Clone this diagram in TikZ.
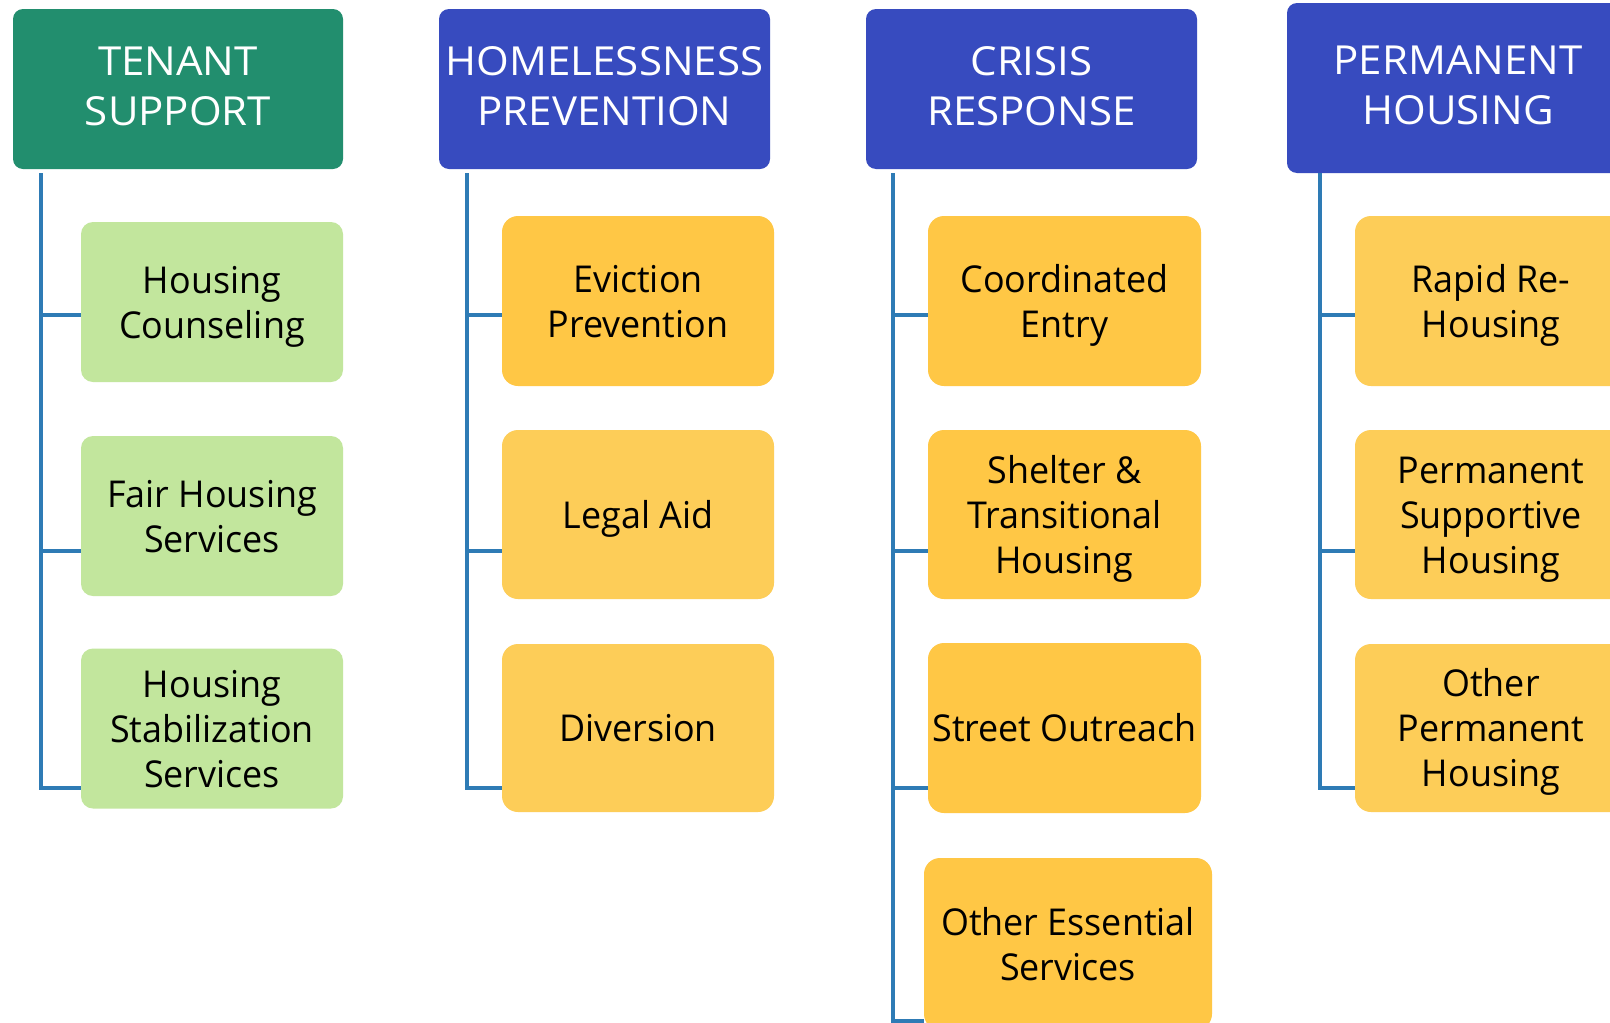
\documentclass[tikz,border=0pt]{standalone}
\usepackage{fontspec}
\setmainfont{Open Sans}
\newfontfamily\headfont[FakeStretch=1.05]{Open Sans}
\newfontfamily\childfont[FakeStretch=0.97]{Open Sans}
\definecolor{greenhead}{HTML}{228E6E}
\definecolor{bluehead}{HTML}{374BBF}
\definecolor{greenchild}{HTML}{C2E69D}
\definecolor{yellowA}{HTML}{FFC745}
\definecolor{yellowB}{HTML}{FDCD58}
\definecolor{linecol}{HTML}{2E7BB5}
\newcommand{\myhdown}{\rule[-6pt]{0pt}{6pt}}
\newcommand{\mycup}{\rule{0pt}{37pt}}
\newcommand{\mydn}{\rule[-10pt]{0pt}{10pt}}
\begin{document}
\begin{tikzpicture}[x=1pt,y=-1pt,
  headbox/.style={rounded corners=10pt, minimum width=330pt, minimum height=160pt, inner sep=0pt,
    text=white, align=center, font=\headfont\fontsize{40}{50}\selectfont},
  childbox/.style={rounded corners=16pt, minimum width=272pt, minimum height=170pt, inner sep=0pt,
    text=black, align=center, font=\childfont\fontsize{37}{45}\selectfont},
  greenbox/.style={childbox, fill=greenchild, rounded corners=12pt, minimum width=262pt, minimum height=160pt},
  conn/.style={draw=linecol, line width=4pt}
]
\useasboundingbox (0,0) rectangle (1610,1023);
\clip (0,0) rectangle (1610,1023);
\fill[white] (0,0) rectangle (1610,1023);

% headers
\node[headbox, fill=greenhead] (h1) at (178,89) {TENANT\\SUPPORT\myhdown};
\node[headbox, fill=bluehead, minimum width=331pt] (h2) at (604.5,89) {HOMELESSNESS\\PREVENTION\myhdown};
\node[headbox, fill=bluehead, minimum width=331pt] (h3) at (1031.5,89) {CRISIS\\RESPONSE\myhdown};
\node[headbox, fill=bluehead, minimum width=342pt, minimum height=170pt] (h4) at (1458,88) {PERMANENT\\HOUSING\myhdown};

% children: tenant support
\node[greenbox] (c11) at (212,302) {\mycup Housing\\Counseling\mydn};
\node[greenbox] (c12) at (212,516) {\mycup Fair Housing\\Services\mydn};
\node[greenbox] (c13) at (212,728.5) {\mycup Housing\\Stabilization\\Services\mydn};

% homelessness prevention
\node[childbox, fill=yellowA] (c21) at (638,301) {\mycup Eviction\\Prevention\mydn};
\node[childbox, fill=yellowB, minimum height=169pt] (c22) at (638,514.5) {\mycup Legal Aid\mydn};
\node[childbox, fill=yellowB, minimum height=168pt] (c23) at (638,728) {\mycup Diversion\mydn};

% crisis response
\node[childbox, fill=yellowA, minimum width=273pt] (c31) at (1064.5,301) {\mycup Coordinated\\Entry\mydn};
\node[childbox, fill=yellowA, minimum width=273pt, minimum height=169pt] (c32) at (1064.5,514.5) {\mycup Shelter \&\\Transitional\\Housing\mydn};
\node[childbox, fill=yellowA, minimum width=273pt] (c33) at (1064.5,728) {\mycup Street Outreach\mydn};
\node[childbox, fill=yellowA, minimum width=288pt, minimum height=172pt] (c34) at (1068,944) {\mycup Other Essential\\Services\mydn};

% permanent housing
\node[childbox, fill=yellowB] (c41) at (1491,301) {\mycup Rapid Re-\\Housing\mydn};
\node[childbox, fill=yellowB, minimum height=169pt] (c42) at (1491,514.5) {\mycup Permanent\\Supportive\\Housing\mydn};
\node[childbox, fill=yellowB, minimum height=168pt] (c43) at (1491,728) {\mycup Other\\Permanent\\Housing\mydn};

% trunk tops and branch levels
\coordinate (ya) at (0,315);
\coordinate (yb) at (0,551);
\coordinate (yc) at (0,788);
\coordinate (yd) at (0,1021);
\coordinate (t1) at (41,173);
\coordinate (t2) at (467,173);
\coordinate (t3) at (893,173);
\coordinate (t4) at (1320,173);

\draw[conn] (t1) -- (t1 |- yc) -- (c13.west |- yc);
\draw[conn] (t1 |- ya) -- (c11.west |- ya);
\draw[conn] (t1 |- yb) -- (c12.west |- yb);

\draw[conn] (t2) -- (t2 |- yc) -- (c23.west |- yc);
\draw[conn] (t2 |- ya) -- (c21.west |- ya);
\draw[conn] (t2 |- yb) -- (c22.west |- yb);

\draw[conn] (t3) -- (t3 |- yd) -- (c34.west |- yd);
\draw[conn] (t3 |- ya) -- (c31.west |- ya);
\draw[conn] (t3 |- yb) -- (c32.west |- yb);
\draw[conn] (t3 |- yc) -- (c33.west |- yc);

\draw[conn] (t4) -- (t4 |- yc) -- (c43.west |- yc);
\draw[conn] (t4 |- ya) -- (c41.west |- ya);
\draw[conn] (t4 |- yb) -- (c42.west |- yb);
\end{tikzpicture}
\end{document}
